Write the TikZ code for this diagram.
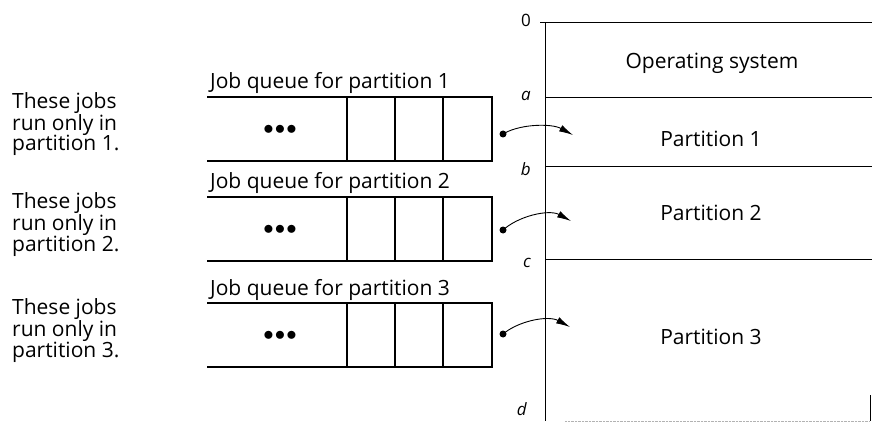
\documentclass[tikz,border=0pt]{standalone}
\usepackage{fontspec}
\setmainfont{Open Sans}
\usepackage{tikz}
\usetikzlibrary{arrows.meta}

\tikzset{
	txt/.style={font=\fontsize{21}{20.5}\selectfont, inner sep=0pt},
	sidetxt/.style={txt, align=left, anchor=base west},
	edgelbl/.style={font=\fontsize{17}{17}\selectfont\itshape, inner sep=0pt},
	qline/.style={line width=1.1pt},
	memline/.style={line width=1pt},
	dotnode/.style={circle, fill=black, inner sep=0pt, minimum size=7pt},
	jobarrow/.style={line width=0.9pt, -{Latex[length=14pt, width=7pt]}, shorten <=-2pt}
}

\begin{document}
\begin{tikzpicture}[x=1pt, y=-1pt]
	
	\useasboundingbox (0,0) rectangle (872,422);
	
	% Memory on the right: 0, a, b, c, d
	\coordinate (M0) at (545,23);
	\coordinate (Ma) at (545,98);
	\coordinate (Mb) at (545,167);
	\coordinate (Mc) at (545,259);
	\coordinate (Md) at (545,421);
	
	\draw[memline] (M0) -- (Md);
	\draw[memline] (M0) -- ++(327,0);
	\draw[memline] (Ma) -- ++(327,0);
	\draw[memline] (Mb) -- ++(327,0);
	\draw[memline] (Mc) -- ++(327,0);
	\draw[gray!60, densely dotted] (Md) ++(20,0) -- ++(305,0);
	\draw[memline] (870,395) -- (870,421);
	\draw[memline] (M0) -- ++(-5,0);
	
	\node[font=\fontsize{17}{17}\selectfont, inner sep=0pt, anchor=east] (l0) at (531,20) {0};
	\node[edgelbl, anchor=east] (la) at (531,96) {a};
	\node[edgelbl, anchor=east] (lb) at (531,169) {b};
	\node[edgelbl, anchor=east] (lc) at (531,263) {c};
	\node[edgelbl, anchor=base east] (ld) at (527,415) {d};
	
	\node[txt] (os) at (712,63) {Operating system};
	\node[txt] (p1) at (711,139) {Partition 1};
	\node[txt] (p2) at (711,213) {Partition 2};
	\node[txt] (p3) at (711,337) {Partition 3};
	
	% Job queues, one per partition
	\foreach \n/\y in {1/97, 2/197, 3/303} {
		\node[txt, anchor=base west] (jq\n) at (210,\y-8) {Job queue for partition \n};
		\draw[qline] (207,\y) -- (492,\y) -- (492,\y+64) -- (207,\y+64);
		\foreach \x in {347,395,443}
			\draw[qline] (\x,\y) -- (\x,\y+64);
		\node[txt] (dots\n) at (280,\y+33) {$\bullet\!\bullet\!\bullet$};
		% base anchor sits on the last line
		\node[sidetxt] (who\n) at (12,\y+54) {These jobs\\run only in\\partition \n.};
	}
	
	% Jobs go from each queue into its partition
	\node[dotnode] (d1) at (503,134) {};
	\node[dotnode] (d2) at (503,230) {};
	\node[dotnode] (d3) at (503,334) {};
	\coordinate (t1) at (573,135);
	\coordinate (t2) at (571,221);
	\coordinate (t3) at (570,327);
	
	\draw[jobarrow] (d1.center) .. controls +(14,-10) and +(-22,-12) .. (t1);
	\draw[jobarrow] (d2.center) .. controls +(14,-14) and +(-22,-12) .. (t2);
	\draw[jobarrow] (d3.center) .. controls +(14,-13) and +(-22,-12) .. (t3);
	
\end{tikzpicture}
\end{document}
